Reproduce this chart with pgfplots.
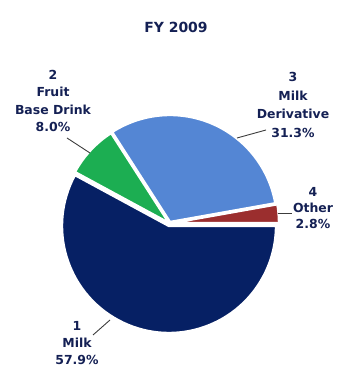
\documentclass[border=0pt]{standalone}
\usepackage{pgfplots}
\usepackage{pgfplotstable}
\pgfplotsset{compat=1.18}
\usepackage{fontspec}
\setmainfont{DejaVu Sans}
\definecolor{cMilk}{RGB}{6,32,100}
\definecolor{cFruit}{RGB}{28,174,82}
\definecolor{cDeriv}{RGB}{84,134,212}
\definecolor{cOther}{RGB}{155,46,46}
\definecolor{cText}{RGB}{20,32,84}
\definecolor{cLead}{RGB}{60,60,60}

\pgfplotstableread{
id share
1 57.9
2 8.0
3 31.3
4 2.8
}\piedata

\begin{document}%
\begin{tikzpicture}
% cumulative angles, counter-clockwise from 3 o'clock: Other, Milk Derivative, Fruit, Milk
\pgfplotstablegetelem{3}{share}\of\piedata \pgfmathsetmacro{\shOther}{\pgfplotsretval}
\pgfplotstablegetelem{2}{share}\of\piedata \pgfmathsetmacro{\shDeriv}{\pgfplotsretval}
\pgfplotstablegetelem{1}{share}\of\piedata \pgfmathsetmacro{\shFruit}{\pgfplotsretval}
\pgfplotstablegetelem{0}{share}\of\piedata \pgfmathsetmacro{\shMilk}{\pgfplotsretval}
\pgfmathsetmacro{\aA}{0}
\pgfmathsetmacro{\aB}{\aA+3.6*\shOther}
\pgfmathsetmacro{\aC}{\aB+3.6*\shDeriv}
\pgfmathsetmacro{\aD}{\aC+3.6*\shFruit}
\pgfmathsetmacro{\aE}{\aD+3.6*\shMilk}
\begin{axis}[
  name=ax,
  scale only axis, width=337bp, height=365bp,
  xmin=0, xmax=337, ymin=0, ymax=365,
  hide axis, clip=false,
]
\def\R{107bp}
\fill[cOther, draw=white, line width=2.4bp] (axis cs:172,142) -- ++(\aA:\R) arc[start angle=\aA, end angle=\aB, radius=\R] -- cycle;
\fill[cDeriv, draw=white, line width=2.4bp] (axis cs:170,143) -- ++(\aB:\R) arc[start angle=\aB, end angle=\aC, radius=\R] -- cycle;
\fill[cFruit, draw=white, line width=2.4bp] (axis cs:169,142) -- ++(\aC:\R) arc[start angle=\aC, end angle=\aD, radius=\R] -- cycle;
\fill[cMilk, draw=white, line width=2.4bp] (axis cs:169,139) -- ++(\aD:\R) arc[start angle=\aD, end angle=\aE, radius=\R] -- cycle;

\draw[cLead, line width=0.9bp] (axis cs:67,227) -- (axis cs:90,212);
\draw[cLead, line width=0.9bp] (axis cs:237,227) -- (axis cs:266,235);
\draw[cLead, line width=0.9bp] (axis cs:278,152) -- (axis cs:292,152);
\draw[cLead, line width=0.9bp] (axis cs:93,30) -- (axis cs:110,45);

\node[text=cText, font=\fontsize{14}{17}\selectfont\bfseries] at (axis cs:176,338) {FY 2009};
\node[text=cText, align=center, font=\fontsize{12.5}{17.5}\selectfont\bfseries] at (axis cs:53,264) {2\\Fruit\\Base Drink\\8.0\%};
\node[text=cText, align=center, font=\fontsize{12.5}{18.5}\selectfont\bfseries] at (axis cs:293,260) {3\\Milk\\Derivative\\31.3\%};
\node[text=cText, align=center, font=\fontsize{12.5}{16}\selectfont\bfseries] at (axis cs:313,157) {4\\Other\\2.8\%};
\node[text=cText, align=center, font=\fontsize{12.5}{17}\selectfont\bfseries] at (axis cs:77,22) {1\\Milk\\57.9\%};
\end{axis}
\pgfresetboundingbox
\useasboundingbox (ax.south west) rectangle (ax.north east);
\end{tikzpicture}%
\end{document}
